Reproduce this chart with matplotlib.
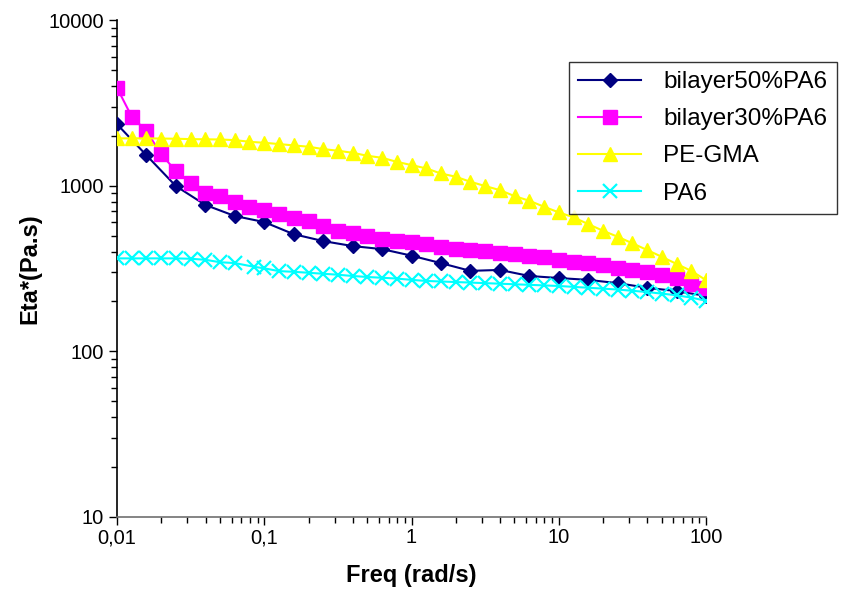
import matplotlib
matplotlib.use("Agg")
import matplotlib.pyplot as plt
from matplotlib.ticker import LogLocator, FixedLocator, FixedFormatter, NullFormatter

plt.rcParams['font.family'] = ['Liberation Sans', 'DejaVu Sans']

# Frequency sweeps (rad/s)
freq_5pd = [0.01, 0.0158, 0.0251, 0.0398, 0.0631, 0.1, 0.158, 0.251, 0.398, 0.631,
            1, 1.58, 2.51, 3.98, 6.31, 10, 15.8, 25.1, 39.8, 63.1, 100]
freq_10pd = [0.01, 0.0126, 0.0158, 0.02, 0.0251, 0.0316, 0.0398, 0.0501, 0.0631, 0.0794,
             0.1, 0.126, 0.158, 0.2, 0.251, 0.316, 0.398, 0.501, 0.631, 0.794,
             1, 1.26, 1.58, 2, 2.51, 3.16, 3.98, 5.01, 6.31, 7.94,
             10, 12.6, 15.8, 20, 25.1, 31.6, 39.8, 50.1, 63.1, 79.4, 100]
freq_pa6 = [0.01, 0.0126, 0.0158, 0.02, 0.0251, 0.0316, 0.0398, 0.0501, 0.0631, 0.085,
            0.1, 0.126, 0.158, 0.2, 0.251, 0.316, 0.398, 0.501, 0.631, 0.794,
            1, 1.26, 1.58, 2, 2.51, 3.16, 3.98, 5.01, 6.31, 7.94,
            10, 12.6, 15.8, 20, 25.1, 31.6, 39.8, 50.1, 63.1, 79.4, 100]

# Complex viscosity Eta* (Pa.s)
eta_bilayer50 = [2350, 1530, 995, 765, 656, 603, 510, 463, 432, 414,
                 378, 341, 306, 310, 285, 277, 270, 258, 242, 231, 216]
eta_bilayer30 = [3900, 2606, 2140, 1545, 1225, 1035, 900, 865, 800, 746,
                 713, 674, 635, 611, 570, 534, 515, 497, 474, 465,
                 455, 442, 428, 416, 409, 403, 393, 385, 376, 369,
                 358, 348, 340, 332, 318, 310, 300, 289, 276, 256, 240]
eta_pegma = [1930, 1930, 1930, 1925, 1920, 1910, 1905, 1900, 1884, 1840,
             1815, 1783, 1750, 1718, 1663, 1625, 1580, 1515, 1473, 1393,
             1331, 1271, 1185, 1132, 1056, 995, 940, 865, 811, 746,
             690, 644, 587, 534, 492, 449, 409, 372, 337, 306, 269]
eta_pa6 = [364, 364, 364, 364, 364, 362, 357, 345, 341, 324,
           317, 305, 302, 298, 294, 290, 285, 281, 278, 275,
           270, 266, 264, 262, 260, 258, 256, 254, 252, 250,
           248, 245, 242, 239, 236, 232, 228, 223, 218, 211, 202]

x_ticks = [0.01, 0.1, 1, 10, 100]
x_tick_labels = ["0,01", "0,1", "1", "10", "100"]
y_ticks = [10, 100, 1000, 10000]
y_tick_labels = ["10", "100", "1000", "10000"]

fig = plt.figure(figsize=(8.43, 5.96), dpi=100)
ax = fig.add_axes([117 / 843, 1 - 517 / 596, (706 - 117) / 843, (517 - 20) / 596])

ax.plot(freq_5pd, eta_bilayer50, color='#000080', lw=1.5, marker='D', ms=7,
        label='bilayer50%PA6', zorder=3)
ax.plot(freq_10pd, eta_bilayer30, color='#FF00FF', lw=1.5, marker='s', ms=9.5,
        label='bilayer30%PA6', zorder=4)
ax.plot(freq_10pd, eta_pegma, color='#FFFF00', lw=1.5, marker='^', ms=10,
        label='PE-GMA', zorder=5)
ax.plot(freq_pa6, eta_pa6, color='#00FFFF', lw=1.5, marker='x', ms=10, mew=1.6,
        label='PA6', zorder=6)

ax.set_xscale('log')
ax.set_yscale('log')
ax.set_xlim(0.01, 100)
ax.set_ylim(10, 10000)

ax.xaxis.set_major_locator(FixedLocator(x_ticks))
ax.xaxis.set_major_formatter(FixedFormatter(x_tick_labels))
ax.yaxis.set_major_locator(FixedLocator(y_ticks))
ax.yaxis.set_major_formatter(FixedFormatter(y_tick_labels))
ax.xaxis.set_minor_locator(LogLocator(base=10, subs=range(2, 10)))
ax.yaxis.set_minor_locator(LogLocator(base=10, subs=range(2, 10)))
ax.xaxis.set_minor_formatter(NullFormatter())
ax.yaxis.set_minor_formatter(NullFormatter())

ax.tick_params(which='both', direction='out', labelsize=14.5, width=1, color='black')
ax.tick_params(which='major', length=6)
ax.tick_params(which='minor', length=4)
ax.tick_params(axis='x', pad=2)

ax.spines['top'].set_visible(False)
ax.spines['right'].set_visible(False)
ax.spines['left'].set_linewidth(1.2)
ax.spines['bottom'].set_linewidth(1.2)
ax.spines['bottom'].set_color('#707070')

ax.set_xlabel('Freq (rad/s)', fontsize=17, fontweight='bold', labelpad=12)
ax.set_ylabel('Eta*(Pa.s)', fontsize=17, fontweight='bold', labelpad=5)

leg = fig.legend(loc='upper left', bbox_to_anchor=(569 / 843, 1 - 62 / 596),
                 fontsize=17.5, frameon=True, fancybox=False, edgecolor='black',
                 handlelength=2.6, borderpad=0.38, labelspacing=0.62, handletextpad=0.9,
                 borderaxespad=0)
leg.get_frame().set_linewidth(1.0)

fig.savefig('out.png', dpi=100)
